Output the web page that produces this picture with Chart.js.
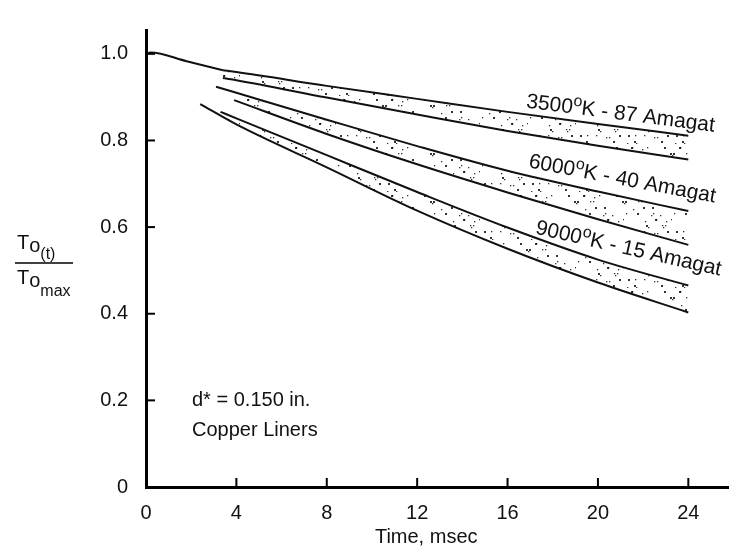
<!DOCTYPE html>
<html>
<head>
<meta charset="utf-8">
<script src="https://cdn.jsdelivr.net/npm/chart.js@4.4.1/dist/chart.umd.min.js"></script>
<style>
  html, body { margin: 0; padding: 0; background: #fff; }
</style>
</head>
<body>
<canvas id="decay" width="729" height="555"></canvas>
<script>
// Axis ticks
var xTicks = [0, 4, 8, 12, 16, 20, 24];
var yTicks = [0, 0.2, 0.4, 0.6, 0.8, 1.0];

// Lead-in curve from 1.0 down to the start of the first band
var leadX = [0, 0.2, 1.8, 3.4];
var leadY = [0.999, 1.003, 0.983, 0.962];

// 3500 K - 87 Amagat band
var band1UpperX = [3.4, 4, 8, 12, 16, 20, 24];
var band1Upper  = [0.962, 0.958, 0.926, 0.896, 0.866, 0.838, 0.811];
var band1LowerX = [3.4, 4, 8, 12, 16, 20, 24];
var band1Lower  = [0.944, 0.939, 0.899, 0.860, 0.822, 0.788, 0.756];

// 6000 K - 40 Amagat band
var band2UpperX = [3.1, 4, 8, 12, 16, 20, 24];
var band2Upper  = [0.924, 0.910, 0.848, 0.787, 0.730, 0.682, 0.637];
var band2LowerX = [3.9, 8, 12, 16, 20, 24];
var band2Lower  = [0.893, 0.815, 0.745, 0.680, 0.618, 0.559];

// 9000 K - 15 Amagat band
var band3UpperX = [3.3, 4, 8, 12, 16, 20, 24];
var band3Upper  = [0.866, 0.851, 0.766, 0.681, 0.599, 0.525, 0.465];
var band3LowerX = [2.4, 4, 8, 12, 16, 20, 24];
var band3Lower  = [0.884, 0.837, 0.738, 0.638, 0.550, 0.472, 0.403];

// Curve labels
var labelTemps = ['3500', '6000', '9000'];
var labelPressures = ['87', '40', '15'];

var fontFamily = "'Liberation Sans', Arial, sans-serif";
var ink = '#111';

// stipple used to shade the bands (scattered dots, fixed layout)
function stipple() {
  var c = document.createElement('canvas');
  c.width = 48; c.height = 48;
  var g = c.getContext('2d');
  g.fillStyle = 'rgba(0,0,0,0.8)';
  for (var i = 0; i < 38; i++) {
    var px = (i * 29 + 7) % 48;
    var py = (i * i * 7 + i * 13 + 3) % 48;
    var sz = (i % 3 === 0) ? 2 : 1.3;
    g.fillRect(px, py, sz, sz);
  }
  return g.createPattern(c, 'repeat');
}
var dots = stipple();

function pts(xs, ys) {
  return xs.map(function (x, i) { return { x: x, y: ys[i] }; });
}

function curve(xs, ys, fill) {
  return {
    data: pts(xs, ys),
    borderColor: ink,
    borderWidth: 2,
    pointRadius: 0,
    cubicInterpolationMode: 'monotone',
    fill: fill,
    backgroundColor: dots
  };
}

function drawParts(ctx, parts) {
  var cx = 0;
  parts.forEach(function (p) {
    ctx.font = p.size + 'px ' + fontFamily;
    ctx.fillText(p.text, cx, p.dy || 0);
    cx += ctx.measureText(p.text).width + (p.gap || 0);
  });
}

var decorations = {
  id: 'decorations',
  afterDraw: function (chart) {
    var ctx = chart.ctx, xs = chart.scales.x, ys = chart.scales.y, area = chart.chartArea;
    ctx.save();
    ctx.strokeStyle = '#000';
    ctx.lineWidth = 2;
    // inward tick marks
    xTicks.forEach(function (v) {
      if (v === 0) return;
      var px = xs.getPixelForValue(v);
      ctx.beginPath(); ctx.moveTo(px, area.bottom); ctx.lineTo(px, area.bottom - 9); ctx.stroke();
    });
    yTicks.forEach(function (v) {
      if (v === 0) return;
      var py = ys.getPixelForValue(v);
      ctx.beginPath(); ctx.moveTo(area.left, py); ctx.lineTo(area.left + 9, py); ctx.stroke();
    });

    ctx.fillStyle = ink;
    ctx.textBaseline = 'alphabetic';
    ctx.textAlign = 'left';

    // rotated curve labels
    var anchors = [[16.8, 0.876, 7.3], [16.9, 0.738, 10.7], [17.2, 0.585, 12.8]];
    labelTemps.forEach(function (t, i) {
      var a = anchors[i];
      ctx.save();
      ctx.translate(xs.getPixelForValue(a[0]), ys.getPixelForValue(a[1]));
      ctx.rotate(a[2] * Math.PI / 180);
      drawParts(ctx, [
        { text: t, size: 21 },
        { text: 'o', size: 16, dy: -8 },
        { text: 'K - ' + labelPressures[i] + ' Amagat', size: 21 }
      ]);
      ctx.restore();
    });

    // notes
    ctx.font = '20px ' + fontFamily;
    ctx.fillText('d* = 0.150 in.', 192, 406);
    ctx.fillText('Copper Liners', 192, 436);

    // x title
    ctx.textAlign = 'center';
    ctx.fillText('Time, msec', xs.getPixelForValue(12.4), 543);

    // y title as a fraction
    ctx.textAlign = 'left';
    ctx.save(); ctx.translate(17, 249);
    drawParts(ctx, [{ text: 'T', size: 20 }, { text: 'o', size: 20, dy: 3 }, { text: '(t)', size: 16, dy: 10 }]);
    ctx.restore();
    ctx.beginPath(); ctx.lineWidth = 1.5; ctx.moveTo(15, 263); ctx.lineTo(73, 263); ctx.stroke();
    ctx.save(); ctx.translate(17, 284);
    drawParts(ctx, [{ text: 'T', size: 20 }, { text: 'o', size: 20, dy: 3 }, { text: 'max', size: 16, dy: 12 }]);
    ctx.restore();

    ctx.restore();
  }
};

var decayChart = new Chart(document.getElementById('decay'), {
  type: 'line',
  data: {
    datasets: [
      curve(leadX, leadY, false),
      curve(band1UpperX, band1Upper, '+1'),
      curve(band1LowerX, band1Lower, false),
      curve(band2UpperX, band2Upper, '+1'),
      curve(band2LowerX, band2Lower, false),
      curve(band3UpperX, band3Upper, '+1'),
      curve(band3LowerX, band3Lower, false)
    ]
  },
  options: {
    responsive: false,
    animation: false,
    devicePixelRatio: 1,
    layout: { padding: { top: 12, right: 0, left: 0, bottom: 0 } },
    plugins: { legend: { display: false }, tooltip: { enabled: false } },
    scales: {
      x: {
        type: 'linear',
        min: 0,
        max: 25.8,
        afterBuildTicks: function (s) { s.ticks = xTicks.map(function (v) { return { value: v }; }); },
        afterFit: function (s) { s.height = 68; },
        grid: { display: false, drawTicks: false },
        border: { display: true, color: '#000', width: 3 },
        ticks: { padding: 14, color: ink, font: { family: fontFamily, size: 20 }, maxRotation: 0 }
      },
      y: {
        min: 0,
        max: 1.055,
        afterBuildTicks: function (s) { s.ticks = yTicks.map(function (v) { return { value: v }; }); },
        afterFit: function (s) { s.width = 146; },
        grid: { display: false, drawTicks: false },
        border: { display: true, color: '#000', width: 3 },
        ticks: {
          padding: 18, color: ink, font: { family: fontFamily, size: 20 },
          callback: function (v) { return v === 0 ? '0' : v.toFixed(1); }
        }
      }
    }
  },
  plugins: [decorations]
});
</script>
</body>
</html>
